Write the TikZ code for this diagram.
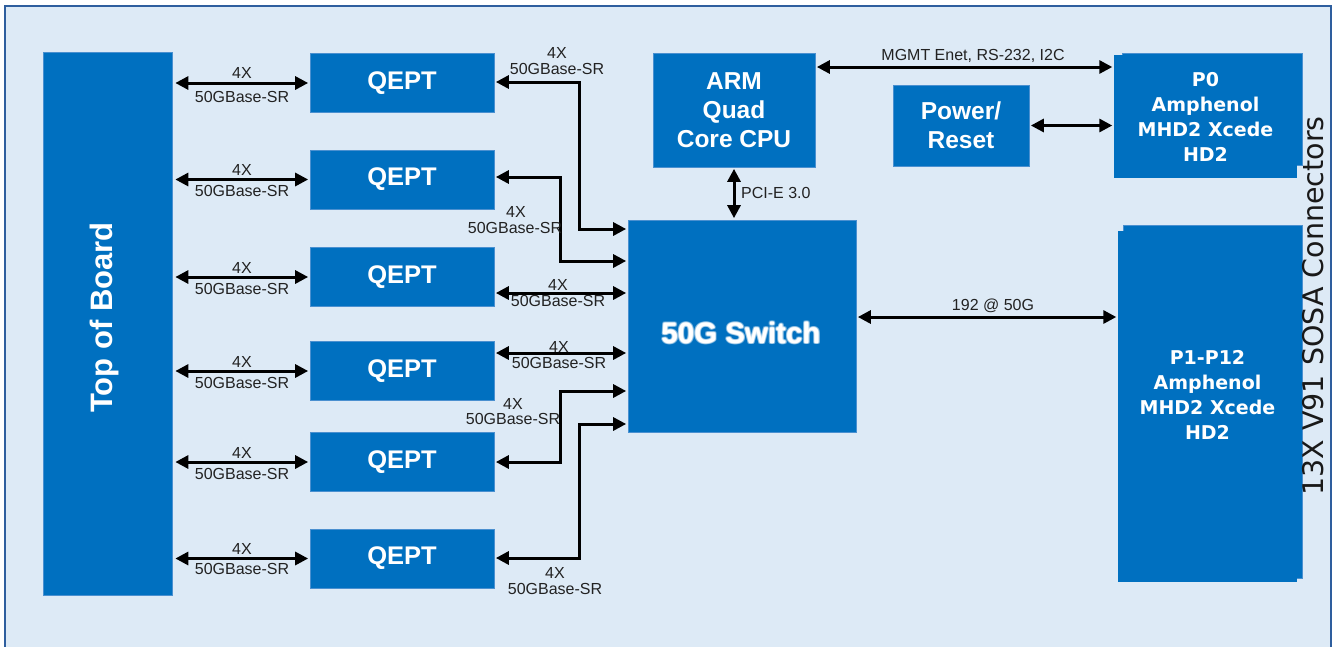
\documentclass[tikz,border=0pt]{standalone}
\usepackage{fontspec}
\setmainfont{Liberation Sans}
\newfontfamily\dvs{DejaVu Sans}
\usetikzlibrary{arrows.meta}
\definecolor{bgblue}{HTML}{DDEAF6}
\definecolor{frameblue}{HTML}{2E5E9E}
\definecolor{boxblue}{HTML}{0070C0}
\definecolor{boxedge}{HTML}{4A90D0}
\definecolor{labelgray}{HTML}{222222}
\begin{document}
\begin{tikzpicture}[x=1pt,y=-1pt,
  blk/.style={fill=boxblue, draw=boxedge, line width=0.7pt, inner sep=0pt, text=white, align=center, font=\bfseries\fontsize{24.5}{29}\selectfont},
  qept/.style={blk, minimum width=184pt, minimum height=59pt, font=\bfseries\fontsize{25.5}{25.5}\selectfont},
  pbox/.style={fill=boxblue, inner sep=0pt, text=white, align=center, font=\dvs\bfseries\fontsize{19}{25}\selectfont},
  pback/.style={fill=boxblue, draw=boxedge, line width=0.7pt},
  tipx/.tip={Triangle[length=13pt,width=13pt]},
  dlink/.style={line width=3pt, tipx-tipx, shorten <=1.5pt, shorten >=1.5pt},
  lbl/.style={text=labelgray, font=\fontsize{16}{16}\selectfont, inner sep=0pt},
  swtxt/.style={text=white, font=\bfseries\fontsize{29.5}{29.5}\selectfont, inner sep=0pt},
]
\useasboundingbox (0,0) rectangle (1334,646);
\fill[white] (0,0) rectangle (1334,646);
\draw[frameblue, line width=2.5pt, fill=bgblue] (5,6) rectangle (1331,720);

% Top of board
\node[blk, minimum width=129pt, minimum height=543pt] (tob) at (107.5,323.5) {};
\node[rotate=90, anchor=base, text=white, font=\bfseries\fontsize{31}{31}\selectfont, inner sep=0pt] (tobtext) at (112,317.5) {Top of Board};

% QEPT blocks
\node[qept] (q1) at (402,83) {QEPT};
\node[qept] (q2) at (402,179.5) {QEPT};
\node[qept] (q3) at (402,277) {QEPT};
\node[qept] (q4) at (402,371) {QEPT};
\node[qept] (q5) at (402,462) {QEPT};
\node[qept] (q6) at (402,558.5) {QEPT};

% Switch, CPU, Power
\node[blk, minimum width=228pt, minimum height=212pt] (sw) at (742,326) {};
\foreach \dx/\dy [count=\i] in {-1.3/0,1.3/0,0/-1.3,0/1.3,-0.9/-0.9,0.9/0.9,-0.9/0.9,0.9/-0.9}
  \node[swtxt, text opacity=0.3] (glow\i) at (741+\dx,333+\dy) {50G Switch};
\node[swtxt] (swtext) at (741,333) {50G Switch};
\node[blk, minimum width=162pt, minimum height=114pt] (arm) at (734,110) {ARM\\Quad\\Core CPU};
\node[blk, minimum width=136pt, minimum height=81pt] (pwr) at (961,125.5) {Power/\\Reset};

% Connector boxes
\path[pback] (1122,53) rectangle (1302,165);
\node[pbox, minimum width=183pt, minimum height=123pt] (p0) at (1205.5,116.5) {P0\\Amphenol\\MHD2 Xcede\\HD2};
\path[pback] (1123,225) rectangle (1302,578);
\node[pbox, minimum width=179pt, minimum height=351pt] (p1) at (1207.5,406.5) {};
\node[pbox, fill=none] (p1text) at (1207.5,394.5) {P1-P12\\Amphenol\\MHD2 Xcede\\HD2};
\node[rotate=90, anchor=base, text=black!90, font=\dvs\fontsize{28.5}{28.5}\selectfont, inner sep=0pt] (sosa) at (1323,306) {13X V91 SOSA Connectors};

% Top of board <-> QEPT
\foreach \q in {q1,q2,q3,q4,q5,q6}
  \draw[dlink, shorten <=3pt] (tob.east |- \q.west) -- (\q.west);
\node[lbl] (a1) at (242,73) {4X};
\node[lbl] (b1) at (242,97) {50GBase-SR};
\node[lbl] (a2) at (242,170) {4X};
\node[lbl] (b2) at (242,191) {50GBase-SR};
\node[lbl] (a3) at (242,268) {4X};
\node[lbl] (b3) at (242,289) {50GBase-SR};
\node[lbl] (a4) at (242,362) {4X};
\node[lbl] (b4) at (242,383) {50GBase-SR};
\node[lbl] (a5) at (242,453) {4X};
\node[lbl] (b5) at (242,474) {50GBase-SR};
\node[lbl] (a6) at (242,549) {4X};
\node[lbl] (b6) at (242,569) {50GBase-SR};

% QEPT <-> switch
\draw[dlink] (q1.east |- 0,82) -- (579,82) -- (579,229) -- (sw.west |- 0,229);
\draw[dlink] (q2.east |- 0,177) -- (560,177) -- (560,261) -- (sw.west |- 0,261);
\draw[dlink] (q3.east |- 0,293) -- (sw.west |- 0,293);
\draw[dlink] (q4.east |- 0,353) -- (sw.west |- 0,353);
\draw[dlink] (q5.east |- 0,462) -- (560,462) -- (560,391) -- (sw.west |- 0,391);
\draw[dlink] (q6.east |- 0,558) -- (579,558) -- (579,424) -- (sw.west |- 0,424);
\node[lbl] (c1) at (557,53) {4X};
\node[lbl] (d1) at (557,69) {50GBase-SR};
\node[lbl] (c2) at (516,212) {4X};
\node[lbl] (d2) at (515,228) {50GBase-SR};
\node[lbl] (c3) at (558,285) {4X};
\node[lbl] (d3) at (558,301) {50GBase-SR};
\node[lbl] (c4) at (559,347) {4X};
\node[lbl] (d4) at (559,363) {50GBase-SR};
\node[lbl] (c5) at (513,404) {4X};
\node[lbl] (d5) at (513,419) {50GBase-SR};
\node[lbl] (c6) at (555,573) {4X};
\node[lbl] (d6) at (555,589) {50GBase-SR};

% CPU, power, connectors
\draw[dlink] (arm.east |- 0,67) -- (p0.west |- 0,67);
\node[lbl] (mg) at (973,56) {MGMT Enet, RS-232, I2C};
\draw[dlink] (pwr.east) -- (pwr.east -| p0.west);
\draw[dlink] (arm.south) -- (arm.south |- sw.north);
\node[lbl, anchor=west] (pci) at (741,193) {PCI-E 3.0};
\draw[dlink] (sw.east |- 0,317) -- (p1.west |- 0,317);
\node[lbl] (bw) at (993,306) {192 @ 50G};
\end{tikzpicture}
\end{document}
